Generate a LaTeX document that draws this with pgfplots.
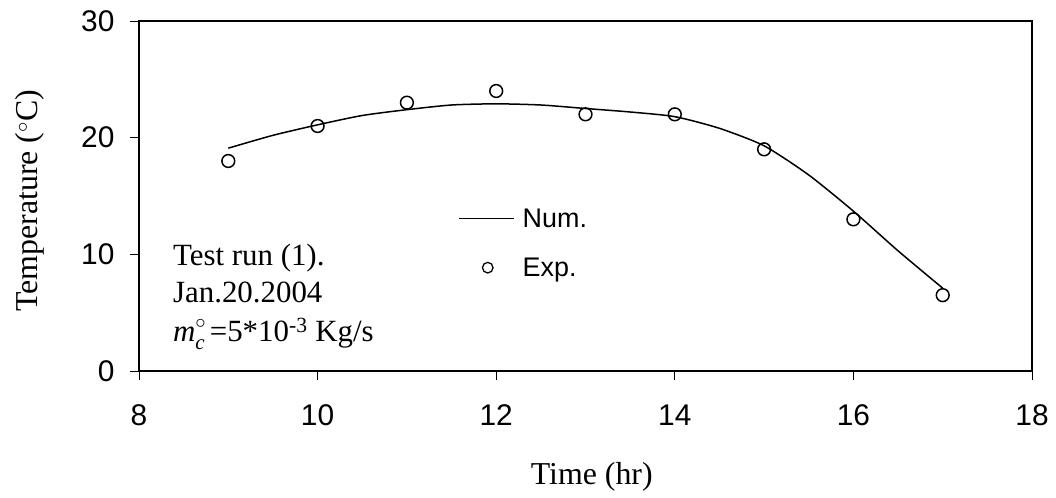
\documentclass[border=0pt]{standalone}
\usepackage{amsmath}
\usepackage{fontspec}
\setmainfont{Liberation Serif}
\newfontfamily\arial{Liberation Sans}
\usepackage{pgfplots}
\pgfplotsset{compat=1.18}
\begin{document}
\begin{tikzpicture}[x=1bp,y=1bp]
\begin{axis}[
  at={(139bp,127bp)}, anchor=south west,
  width=893bp, height=350bp, scale only axis,
  xmin=8, xmax=18, ymin=0, ymax=30,
  xtick={8,10,...,18}, ytick={0,10,20,30},
  xtick pos=bottom, ytick pos=left,
  tick align=outside,
  major tick length=9bp,
  every tick/.style={black, line width=0.8bp},
  axis line style={line width=1.6bp},
  /pgf/number format/assume math mode=true,
  ticklabel style={font=\arial\fontsize{30}{34}\selectfont},
  yticklabel style={xshift=-12bp},
  xticklabel style={yshift=-21bp},
  xlabel={Time (hr)},
  ylabel={Temperature (\textsuperscript{$\circ$}C)},
  label style={font=\fontsize{32}{38}\selectfont},
  xlabel style={at={(axis description cs:0.507,-0.3257)}, anchor=base},
  ylabel style={at={(axis description cs:-0.1142,0.486)}, anchor=base, rotate=0},
  legend style={at={(axis description cs:0.357,0.47)}, anchor=north west,
    draw=none, fill=none, inner sep=0pt, row sep=25bp,
    font=\arial\fontsize{27}{30}\selectfont,
    cells={anchor=west}},
  clip=false,
]
\addplot[black, line width=1.5bp, smooth, tension=0.4,
  legend image code/.code={\draw[black, line width=1.5bp] (0bp,0bp) -- (55bp,0bp);
     \path[draw=none, fill=none] (0bp,0bp) -- (62bp,0bp);}]
  coordinates {
  (9,19.1)(9.5,20.2)(10,21.1)(10.5,21.9)(11,22.4)(11.5,22.8)(12,22.9)
  (12.5,22.8)(13,22.5)(13.5,22.2)(14,21.8)(14.5,20.8)(15,19.3)
  (15.5,16.8)(16,13.7)(16.5,10.3)(17,7.1)};
\addlegendentry{Num.}
\addplot[only marks, mark=o, mark size=6.4bp, line width=1.5bp, black,
  mark options={fill=white},
  legend image code/.code={\path[draw=none, fill=none] (0bp,0bp) -- (62bp,0bp);
     \draw[black, line width=1.3bp, fill=white] (29bp,0bp) circle (5.3bp);}]
  coordinates {
  (9,18)(10,21)(11,23)(12,24)(13,22)(14,22)(15,19)(16,13)(17,6.5)};
\addlegendentry{Exp.}
\node[anchor=base west, font=\fontsize{31}{36}\selectfont, inner sep=0pt] at (axis cs:8.38,9.0) {Test run (1).};
\node[anchor=base west, font=\fontsize{31}{36}\selectfont, inner sep=0pt] at (axis cs:8.38,5.91) {Jan.20.2004};
\node[anchor=base west, font=\fontsize{31}{36}\selectfont, inner sep=0pt] at (axis cs:8.38,2.57)
  {\textit{m}\rlap{\raisebox{13bp}{\fontsize{20}{20}\selectfont$\circ$}}\raisebox{-8bp}{\fontsize{21}{21}\selectfont\textit{c}}\,=5*10\textsuperscript{-3} Kg/s};
\end{axis}
\pgfresetboundingbox
\useasboundingbox (0,0) rectangle (1056bp,498bp);
\end{tikzpicture}
\end{document}
